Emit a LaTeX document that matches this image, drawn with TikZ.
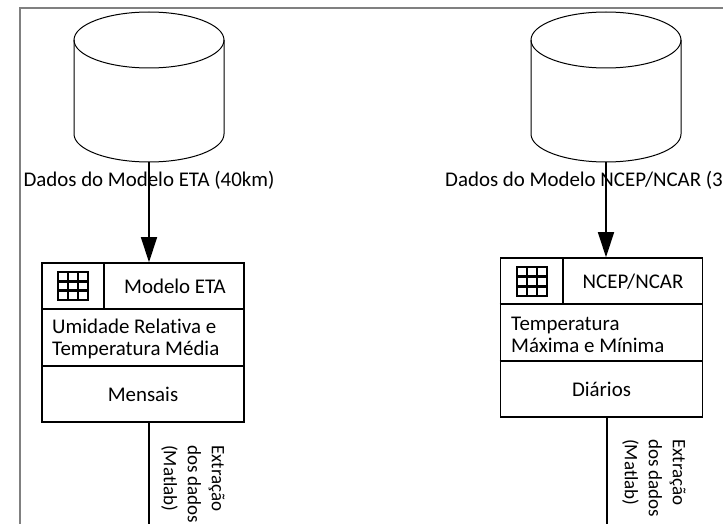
\documentclass[tikz,border=0pt]{standalone}
\usepackage{fontspec}
\setmainfont{Carlito}[Ligatures=CommonOff]
\usetikzlibrary{arrows.meta}
\definecolor{framegray}{RGB}{128,128,128}
\begin{document}
\begin{tikzpicture}[x=1pt,y=-1pt,
  every node/.style={font=\fontsize{20.9}{22}\selectfont, inner sep=0},
  db/.style={line width=1pt},
  tab/.style={draw, line width=1.6pt, minimum width=202pt, minimum height=159pt},
  link/.style={line width=1.6pt},
  flow/.style={link, -{Triangle[width=16pt,length=25pt]}},
  icon/.style={line width=2.6pt},
  steplbl/.style={rotate=-90, anchor=west, align=left, font=\fontsize{19}{24}\selectfont}]
\useasboundingbox (0,0) rectangle (723,524);
\draw[framegray, line width=2pt] (20,524) -- (20,8) -- (723,8);
% ETA
\draw[db] (149,40) ellipse[x radius=75, y radius=28];
\draw[db] (74,40) -- (74,134) arc[start angle=180, end angle=0, x radius=75, y radius=28] -- (224,40);
\coordinate (etadb) at (149,162);
\node (etalbl) at (149,180){Dados do Modelo ETA (40km)};
\node[tab] (etabox) at (143,342.5){};
\draw[flow] (etadb) -- (etadb |- etabox.north);
\draw[link] ([yshift=-47pt]etabox.north west) -- ([yshift=-47pt]etabox.north east);
\draw[link] ([yshift=-104pt]etabox.north west) -- ([yshift=-104pt]etabox.north east);
\draw[link] ([xshift=63pt]etabox.north west) -- ++(0,47);
\draw[icon] (58,272) rectangle (88,300);
\draw[icon] (68,272) -- (68,300) (78,272) -- (78,300) (58,281.3) -- (88,281.3) (58,290.7) -- (88,290.7);
\node (etaname) at (175,286.5){Modelo ETA};
\node[anchor=west, align=left] (etavars) at (52,339){Umidade Relativa e\\Temperatura Média};
\node (etafreq) at (143,394.5){Mensais};
\coordinate (etaend) at (149,524);
\draw[link] (etabox.south -| etaend) -- (etaend);
\node[steplbl] (etastep) at (193,445){Extração\\dos dados\\(Matlab)};
% NCEP/NCAR
\draw[db] (606,40) ellipse[x radius=75, y radius=28];
\draw[db] (531,40) -- (531,134) arc[start angle=180, end angle=0, x radius=75, y radius=28] -- (681,40);
\coordinate (ncepdb) at (606,162);
\node[anchor=west] (nceplbl) at (445,180){Dados do Modelo NCEP/NCAR (3};
\node[tab] (ncepbox) at (601.5,337.5){};
\draw[flow] (ncepdb) -- (ncepdb |- ncepbox.north);
\draw[link] ([yshift=-47pt]ncepbox.north west) -- ([yshift=-47pt]ncepbox.north east);
\draw[link] ([yshift=-104pt]ncepbox.north west) -- ([yshift=-104pt]ncepbox.north east);
\draw[link] ([xshift=63pt]ncepbox.north west) -- ++(0,47);
\draw[icon] (517,267) rectangle (547,296);
\draw[icon] (527,267) -- (527,296) (537,267) -- (537,296) (517,276.7) -- (547,276.7) (517,286.3) -- (547,286.3);
\node (ncepname) at (633,281.5){NCEP/NCAR};
\node[anchor=west, align=left] (ncepvars) at (511,334.5){Temperatura\\Máxima e Mínima};
\node (ncepfreq) at (601.5,389.5){Diários};
\coordinate (ncepend) at (607,524);
\draw[link] (ncepbox.south -| ncepend) -- (ncepend);
\node[steplbl] (ncepstep) at (654,439){Extração\\dos dados\\(Matlab)};
\end{tikzpicture}
\end{document}
